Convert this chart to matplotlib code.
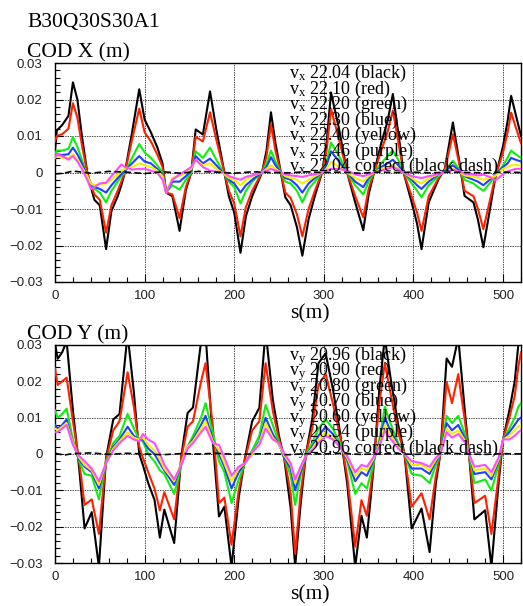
import numpy as np
import matplotlib
matplotlib.use('Agg')
import matplotlib.pyplot as plt
from matplotlib.ticker import MultipleLocator, FuncFormatter

plt.rcParams['font.family'] = ['Liberation Serif', 'DejaVu Serif']
plt.rcParams['mathtext.fontset'] = 'custom'
plt.rcParams['mathtext.rm'] = 'Liberation Serif'
plt.rcParams['mathtext.it'] = 'Liberation Serif:italic'

# orbit position along the ring (m) and closed orbit distortion (mm)
s_x = [0, 2, 8, 15, 20, 25, 30, 36, 40, 44,
       50, 57, 63, 70, 74, 78, 86, 94, 100, 107,
       114, 120, 124, 131, 139, 146, 152, 157, 165, 173,
       180, 189, 194, 200, 207, 213, 220, 231, 236, 241,
       246, 252, 257, 263, 270, 276, 283, 290, 298, 303,
       308, 317, 326, 335, 344, 350, 356, 364, 371, 377,
       383, 389, 398, 404, 409, 417, 428, 435, 444, 452,
       457, 467, 472, 478, 485, 491, 500, 505, 509, 514,
       520]

x_black = [6, 11.5, 13, 15.5, 24.7, 20, 10, 0, -4, -7.5,
           -9, -21, -10.5, -6.5, -3.5, 0, 11, 22.8, 14.5, 11,
           7, 2.5, -5.5, -6.5, -16, -4.8, 0, 11.8, 10.4, 22.2,
           11.8, 0, -6.5, -11, -22, -12, -6.5, 0, 6, 16.5,
           8, 0, -6.8, -9, -15, -22.8, -12.8, -6.4, 0, 8,
           21.9, 11.9, 0, -8.2, -15.8, -6, 0, 8, 14, 21.5,
           11, 0, -8.2, -14, -21, -8.2, -1.8, 1, 13.7, 1.8,
           -6.4, -8.2, -13, -20.5, -10.6, -1.8, 7.3, 14, 21, 16,
           10]
x_red = [8.6, 10, 10.5, 12, 19, 15, 7.5, 0, -3.5, -6,
         -7.5, -16.5, -9, -5, -2.5, 0, 9, 17.5, 11, 8.5,
         5, 1.5, -5.5, -6, -12.5, -4, 0, 9.8, 8.5, 16.5,
         9, 0, -5, -8.5, -17.5, -9.5, -5, 0, 4.5, 13.2,
         6, 0, -5.5, -7, -11.5, -17.5, -10, -5, 0, 6,
         17.4, 9, 0, -6.5, -12.3, -4.5, 0, 6, 11, 17,
         8.5, 0, -6.5, -11, -16, -6.5, -1.5, 0.8, 10.5, 1.4,
         -5, -6.5, -10, -15.5, -8, -1.4, 5.6, 11, 16.4, 12.5,
         8]
x_green = [5, 6, 6, 6.5, 9.7, 7, 3.5, -1, -3, -4.5,
           -5.5, -8.2, -5, -2.5, -1, 0, 4, 7.8, 5.5, 4,
           2, 0, -5.5, -3.5, -4.7, -2, 0, 5.8, 4, 6.8,
           3.5, -0.5, -2.5, -4, -8.5, -5, -2.5, 0, 2.5, 6,
           3, 0, -2.5, -3, -5, -8.2, -4.5, -2.5, 0, 3,
           8.2, 4.5, 0, -3.5, -6, -2.5, 0, 2.5, 4.5, 6,
           3.5, 0, -3, -5, -6.8, -3.5, -1, 0.5, 3.2, 0.5,
           -2, -3, -4, -5, -3, -1, 2, 4, 6, 5,
           4]
x_blue = [4.5, 5, 4.8, 5, 6.8, 5, 2.5, -1, -3, -4,
          -4.5, -5.5, -3.5, -1.5, -0.5, 0.5, 2.5, 4.5, 3, 2.5,
          1, -0.5, -5.5, -2.5, -2.5, -1, 0.5, 4.5, 2.5, 3.8,
          2, -0.5, -2, -3, -5.5, -3.5, -2, 0, 1.5, 4.2,
          2, 0, -1.5, -2, -3.5, -5.5, -3, -1.5, 0, 2,
          5.8, 3, 0, -2.5, -4, -1.5, 0, 1.5, 2.5, 3.5,
          2, 0, -2, -3.5, -4.5, -2.5, -0.5, 0.3, 2, 0.3,
          -1, -2, -2.5, -3.5, -2, -0.8, 1.5, 2.5, 4, 3.5,
          3]
x_yellow = [4, 4.5, 4, 4, 5, 3.5, 1.5, -1, -3, -3.5,
            -3.2, -3, -2, -0.5, 0.5, 1, 1.5, 2.5, 2, 1.5,
            0.5, -1, -5.5, -1.5, -1, 0, 1, 3.5, 2, 2.5,
            1, -0.5, -1.5, -2, -3.5, -2, -1, 0, 1, 2,
            1, 0, -1, -1.5, -2, -3, -2, -1, 0, 1,
            3, 1.5, 0, -1.5, -2.5, -1, 0, 1, 1.5, 2,
            1, 0, -1.5, -2.5, -3, -1.5, -0.5, 0, 1, 0,
            -0.8, -1.2, -1.5, -2, -1.5, -1, 1, 1.5, 2, 2,
            2]
x_purple = [4, 5, 4.5, 3.5, 4.5, 3, 1, -2, -4.5, -4,
            -3, -2.8, -1, 1, 2.2, 1.5, 0.8, 1, 1, 0.5,
            0, -2, -5.5, -2, -0.5, 0.5, 1.5, 3.5, 1.5, 0.5,
            0.2, 0, -1, -1.5, -2, -1.2, -0.8, 0, 0.5, 1,
            0.5, 0, -0.5, -0.8, -1, -1.2, -0.8, -0.5, 0, 0.5,
            1, 1, 0.5, -0.5, -1, -0.5, 0, 0.5, 1, 1.5,
            0.8, 0, -1, -1.3, -1.5, -1, -0.5, 0, 0.8, 0.3,
            -0.3, -0.6, -0.8, -0.6, -1.2, -2.2, -0.5, 0.3, 0.6, 1,
            1]

s_c = [0, 10, 20, 40, 60, 80, 100, 120, 140, 160,
       180, 200, 220, 240, 260, 280, 300, 320, 340, 360,
       380, 400, 420, 440, 460, 480, 500, 520]
x_corr = [-0.4, -0.2, 0.4, -0.2, 0.3, 0.1, -0.3, 0.2, -0.2, 0.3,
          0.1, -0.2, 0.2, 0.0, -0.1, 0.2, 0.0, 0.1, -0.2, 0.1,
          0.0, 0.1, -0.1, 0.1, 0.0, -0.1, 0.1, 0.0]

s_y = [0, 3, 8, 13, 20, 27, 33, 41, 49, 57,
       65, 72, 81, 88, 94, 98, 104, 111, 117, 122,
       133, 141, 148, 154, 163, 168, 176, 183, 189, 197,
       205, 212, 220, 228, 235, 243, 250, 256, 263, 268,
       274, 280, 287, 294, 302, 310, 318, 326, 335, 342,
       348, 355, 362, 368, 375, 383, 390, 398, 409, 418,
       425, 430, 437, 443, 450, 458, 462, 468, 480, 487,
       495, 500, 507, 513, 517, 520]

y_black = [30.5, 26.2, 28, 31, 12, -4, -20.5, -16, -31, -1,
           9.5, 11, 33, 17, 0, -3, -8, -12.6, -23, -15.3,
           -24.5, -0.5, 11.3, 12.8, 31, 33, 4, -17.2, -14.5, -31,
           -12, -1, 9, 12.7, 34, 15, 4.9, -1.6, -15, -31,
           -14, 0, 9.5, 25, 27.7, 18, 6, -8, -31, -17,
           -23, -5, 18, 32, 20, 8, 0, -20.5, -15, -27,
           -8, 0, 26.3, 24, 32, 10, 0, -18, -15.5, -31,
           -8, 4, 12, 20, 30, 31]
y_red = [23.5, 19, 20, 21, 9, -2, -14, -12.5, -22, -1.5,
         6.5, 9, 22.5, 13, 2, -1, -5, -9.5, -15.5, -10.5,
         -18, -1, 7.5, 9, 20, 25, 8, -13.5, -12, -25,
         -10, -1.5, 6.5, 9, 25, 12, 4, -1, -11, -27.5,
         -11, 0, 7, 19, 22, 14, 5, -6, -25.5, -12.7,
         -17, -4, 14, 25, 16, 6, 0, -14.5, -10.8, -18,
         -6, 0, 19.8, 14, 22, 8, 0, -13.5, -11.5, -22,
         -6, 4, 10, 16, 24, 28]
y_green = [12, 10, 11, 12.5, 4, -2, -5.5, -6, -12.5, -2,
           3, 5, 11, 7, 4, 3.5, 0, -2, -4.5, -5.5,
           -11, -3, 2, 5, 10, 14, 6, -2, -5, -13.5,
           -7, -2.5, 1, 5, 13.5, 8, 3, -1, -6, -14,
           -6, 0, 3, 7, 9.5, 7, 3, -2, -11, -8,
           -9.5, -3, 4, 13, 8, 3, 0, -5.5, -6, -8,
           -3, 0, 10.5, 8.5, 10.5, 5, 0, -8, -7, -10,
           -3, 4, 7, 10, 13, 14]
y_blue = [8, 7, 8, 9.5, 3, -1.5, -3.5, -5, -9.5, -2.5,
          2, 4, 7.5, 5, 4, 4, 1.5, 0, -2.5, -4.5,
          -8.5, -2.5, 2, 4, 8, 10.5, 4, 0, -3.5, -9.5,
          -5, -2.5, 0, 3.5, 10, 5.5, 2.5, -1, -4, -10,
          -5, -0.5, 2, 5, 7.5, 5.5, 2, -1.5, -7.5, -5,
          -6, -2, 3, 10, 6, 2.5, 0, -4, -4, -5.5,
          -2, 0, 8.5, 6.5, 8, 4, 0, -5.5, -5, -7,
          -2, 4, 6, 8, 9.5, 10]
y_yellow = [7, 6.5, 7.5, 8.5, 3, -1, -3, -4.5, -8.5, -2.5,
            1.5, 3.5, 6, 4.5, 4, 4.5, 2.5, 1, -1.5, -4,
            -7.5, -2.5, 2, 3.5, 7, 9, 3.5, 1, -2.5, -7.5,
            -4, -2.5, 0, 3, 8.5, 4.5, 2.5, -0.5, -3, -8,
            -4, -0.5, 1.5, 4, 6, 4.5, 2, -1, -6, -4,
            -4.5, -1.5, 2.5, 8, 5, 2, 0, -3, -3, -4.5,
            -1.5, 0, 7, 5.5, 6.5, 3.5, 0, -4.5, -4, -6,
            -1.5, 4, 5, 6.5, 7.5, 8]
y_purple = [6, 6, 7, 8, 2.5, -0.5, -2, -4, -7.5, -2.5,
            1, 3, 5, 4, 3.5, 5.5, 4, 3, 0, -3,
            -7, -3, 1.5, 3, 6, 7.5, 3, 2.5, -1, -6,
            -3.5, -2.5, 0.5, 2.5, 7, 4, 3, 0, -2.5, -7,
            -3.5, -0.5, 1, 3, 5, 4, 2, -0.5, -5, -3,
            -3.5, -1, 2, 6.5, 4, 1.5, 0, -2, -2.5, -3.5,
            -1, 0, 6, 4.5, 5.5, 3, 0, -3.5, -3, -5,
            -1, 4, 4, 5, 6, 6.5]
y_corr = [0.2, -0.3, 0.1, 0.3, -0.1, 0.2, 0.0, -0.2, 0.1, 0.0,
          0.2, -0.1, 0.0, 0.1, -0.2, 0.1, 0.0, 0.2, -0.1, 0.0,
          0.1, -0.1, 0.0, 0.2, 0.0, -0.1, 0.1, 0.0]

tunes_x = ['22.04 (black)', '22.10 (red)', '22.20 (green)', '22.30 (blue)',
           '22.40 (yellow)', '22.46 (purple)', '22.04 correct (black dash)']
tunes_y = ['20.96 (black)', '20.90 (red)', '20.80 (green)', '20.70 (blue)',
           '20.60 (yellow)', '20.54 (purple)', '20.96 correct (black dash)']

colors = ['#000000', '#ff2000', '#10ee10', '#2040ff', '#f5ee00', '#ff4cff']

W, H = 523, 606
fig = plt.figure(figsize=(W / 100, H / 100), dpi=100)


def px(x, y):
    return x / W, 1 - y / H


def fmt(v, pos):
    if abs(v) < 1e-9:
        return '0'
    return ('%.2f' % v).replace('-', '\u2212')


def panel(top, bottom, s, curves, corr, sub, tunes, leg_y):
    l, b = px(55, bottom)
    ax = fig.add_axes([l, b, (521 - 55) / W, (bottom - top) / H])
    for c, v in zip(colors, curves):
        ax.plot(s, np.array(v) * 1e-3, color=c, lw=1.5, zorder=3)
    ax.plot(s_c, np.array(corr) * 1e-3, color='black', lw=1.2,
            dashes=(4, 2), zorder=4)
    ax.set_xlim(0, 520)
    ax.set_ylim(-0.03, 0.03)
    ax.xaxis.set_major_locator(MultipleLocator(100))
    ax.xaxis.set_minor_locator(MultipleLocator(20))
    ax.yaxis.set_major_locator(MultipleLocator(0.01))
    ax.yaxis.set_minor_locator(MultipleLocator(0.002))
    ax.yaxis.set_major_formatter(FuncFormatter(fmt))
    ax.tick_params(which='both', direction='in', top=False, right=False,
                   labelsize=9.5, color='black')
    ax.tick_params(which='major', length=6, width=0.8)
    ax.tick_params(which='minor', length=3.5, width=0.8)
    ax.tick_params(axis='y', pad=9)
    ax.tick_params(axis='x', pad=6)
    for lab in ax.get_xticklabels() + ax.get_yticklabels():
        lab.set_family(['Liberation Sans', 'DejaVu Sans'])
        lab.set_color('#222222')
    ax.grid(True, which='major', color='black', lw=0.5, dashes=(2, 1.5))
    for sp in ax.spines.values():
        sp.set_linewidth(1.0)
    # tune labels stacked tightly at the top right, drawn over the curves
    for i, t in enumerate(tunes):
        x0, y0 = px(289, leg_y + 15.5 * i)
        fig.text(x0, y0, r'v$_{\mathrm{%s}}$ ' % sub + t, fontsize=13,
                 ha='left', va='baseline', zorder=10)
    return ax


panel(63, 282, s_x,
      [x_black, x_red, x_green, x_blue, x_yellow, x_purple], x_corr,
      'x', tunes_x, 78)
panel(345, 563, s_y,
      [y_black, y_red, y_green, y_blue, y_yellow, y_purple], y_corr,
      'y', tunes_y, 360)

fig.text(*px(27, 27), 'B30Q30S30A1', fontsize=15.5, va='baseline')
fig.text(*px(27, 57), 'COD X (m)', fontsize=15.5, va='baseline')
fig.text(*px(27, 339), 'COD Y (m)', fontsize=15.5, va='baseline')
fig.text(*px(310, 318), 's(m)', fontsize=15.5, ha='center', va='baseline')
fig.text(*px(310, 599), 's(m)', fontsize=15.5, ha='center', va='baseline')

fig.savefig('out.png', dpi=100)
